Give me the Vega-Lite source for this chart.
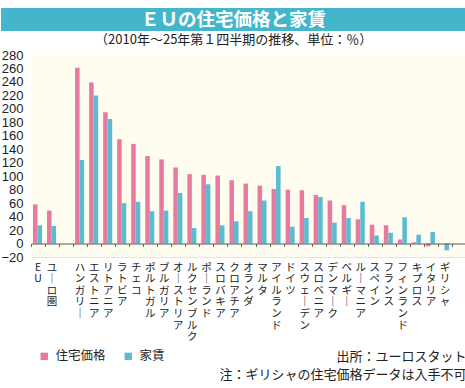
{
  "$schema": "https://vega.github.io/schema/vega-lite/v6.json",
  "padding": {"left": 0, "top": 8, "right": 0, "bottom": 0},
  "background": "white",
  "spacing": 24,
  "bounds": "flush",
  "config": {"font": "Noto Sans CJK JP", "view": {"stroke": null}, "axisY": {"labelOverlap": false}, "axisX": {"labelOverlap": false}},
  "datasets": {
    "bars": [
      {"c": "EU", "s": "住宅価格", "v": 58}, {"c": "EU", "s": "家賃", "v": 27},
      {"c": "ユーロ圏", "s": "住宅価格", "v": 49}, {"c": "ユーロ圏", "s": "家賃", "v": 26},
      {"c": "ハンガリー", "s": "住宅価格", "v": 261}, {"c": "ハンガリー", "s": "家賃", "v": 124},
      {"c": "エストニア", "s": "住宅価格", "v": 239}, {"c": "エストニア", "s": "家賃", "v": 220},
      {"c": "リトアニア", "s": "住宅価格", "v": 195}, {"c": "リトアニア", "s": "家賃", "v": 185},
      {"c": "ラトビア", "s": "住宅価格", "v": 155}, {"c": "ラトビア", "s": "家賃", "v": 60},
      {"c": "チェコ", "s": "住宅価格", "v": 148}, {"c": "チェコ", "s": "家賃", "v": 62},
      {"c": "ポルトガル", "s": "住宅価格", "v": 130}, {"c": "ポルトガル", "s": "家賃", "v": 48},
      {"c": "ブルガリア", "s": "住宅価格", "v": 125}, {"c": "ブルガリア", "s": "家賃", "v": 49},
      {"c": "オーストリア", "s": "住宅価格", "v": 113}, {"c": "オーストリア", "s": "家賃", "v": 75},
      {"c": "ルクセンブルク", "s": "住宅価格", "v": 103}, {"c": "ルクセンブルク", "s": "家賃", "v": 23},
      {"c": "ポーランド", "s": "住宅価格", "v": 102}, {"c": "ポーランド", "s": "家賃", "v": 88},
      {"c": "スロバキア", "s": "住宅価格", "v": 101}, {"c": "スロバキア", "s": "家賃", "v": 27},
      {"c": "クロアチア", "s": "住宅価格", "v": 94}, {"c": "クロアチア", "s": "家賃", "v": 33},
      {"c": "オランダ", "s": "住宅価格", "v": 89}, {"c": "オランダ", "s": "家賃", "v": 48},
      {"c": "マルタ", "s": "住宅価格", "v": 86}, {"c": "マルタ", "s": "家賃", "v": 64},
      {"c": "アイルランド", "s": "住宅価格", "v": 81}, {"c": "アイルランド", "s": "家賃", "v": 115},
      {"c": "ドイツ", "s": "住宅価格", "v": 80}, {"c": "ドイツ", "s": "家賃", "v": 25},
      {"c": "スウェーデン", "s": "住宅価格", "v": 79}, {"c": "スウェーデン", "s": "家賃", "v": 38},
      {"c": "スロベニア", "s": "住宅価格", "v": 72}, {"c": "スロベニア", "s": "家賃", "v": 69},
      {"c": "デンマーク", "s": "住宅価格", "v": 64}, {"c": "デンマーク", "s": "家賃", "v": 31},
      {"c": "ベルギー", "s": "住宅価格", "v": 57}, {"c": "ベルギー", "s": "家賃", "v": 38},
      {"c": "ルーマニア", "s": "住宅価格", "v": 36}, {"c": "ルーマニア", "s": "家賃", "v": 62},
      {"c": "スペイン", "s": "住宅価格", "v": 28}, {"c": "スペイン", "s": "家賃", "v": 12},
      {"c": "フランス", "s": "住宅価格", "v": 27}, {"c": "フランス", "s": "家賃", "v": 16},
      {"c": "フィンランド", "s": "住宅価格", "v": 6}, {"c": "フィンランド", "s": "家賃", "v": 39},
      {"c": "キプロス", "s": "住宅価格", "v": 2}, {"c": "キプロス", "s": "家賃", "v": 13},
      {"c": "イタリア", "s": "住宅価格", "v": -4}, {"c": "イタリア", "s": "家賃", "v": 17},
      {"c": "ギリシャ", "s": "家賃", "v": -10}
    ],
    "slots": [
      {"c": "EU"}, {"c": "ユーロ圏"}, {"c": "sp1"}, {"c": "ハンガリー"}, {"c": "エストニア"}, {"c": "リトアニア"},
      {"c": "ラトビア"}, {"c": "チェコ"}, {"c": "ポルトガル"}, {"c": "ブルガリア"}, {"c": "オーストリア"},
      {"c": "ルクセンブルク"}, {"c": "ポーランド"}, {"c": "スロバキア"}, {"c": "クロアチア"}, {"c": "オランダ"},
      {"c": "マルタ"}, {"c": "アイルランド"}, {"c": "ドイツ"}, {"c": "スウェーデン"}, {"c": "スロベニア"},
      {"c": "デンマーク"}, {"c": "ベルギー"}, {"c": "ルーマニア"}, {"c": "スペイン"}, {"c": "フランス"},
      {"c": "フィンランド"}, {"c": "キプロス"}, {"c": "イタリア"}, {"c": "ギリシャ"}, {"c": "sp2"}
    ],
    "head": [{"t": "ＥＵの住宅価格と家賃"}]
  },
  "vconcat": [
    {
      "width": 465,
      "height": 23,
      "view": {"fill": "#43b6cb", "stroke": null},
      "data": {"name": "head"},
      "mark": {"type": "text", "color": "white", "fontSize": 18.5, "fontWeight": "bold", "font": "Noto Sans CJK JP", "baseline": "middle", "align": "center"},
      "encoding": {"text": {"field": "t"}}
    },
    {
      "width": 465,
      "height": 202,
      "view": {"fill": null, "stroke": null},
      "title": {"text": "（2010年～25年第１四半期の推移、単位：％）", "anchor": "middle", "frame": "bounds", "fontSize": 13, "fontWeight": "normal", "color": "#222", "font": "Noto Sans CJK JP", "offset": 2},
      "resolve": {"axis": {"x": "independent"}},
      "layer": [
        {
          "data": {"name": "slots"},
          "mark": {"type": "bar", "color": "#fffdf0", "stroke": "#fffdf0", "strokeWidth": 0.6},
          "encoding": {
            "x": {
              "field": "c", "type": "nominal",
              "axis": {"orient": "bottom", "offset": -13.47, "title": null, "labels": false, "grid": false,
                       "domain": true, "domainColor": "#555555", "domainWidth": 1,
                       "ticks": true, "tickBand": "extent", "tickSize": 3, "tickColor": "#666666", "tickWidth": 1, "zindex": 1}
            },
            "y": {
              "datum": 280, "type": "quantitative",
              "axis": {
                "title": null, "values": [-20, 0, 20, 40, 60, 80, 100, 120, 140, 160, 180, 200, 220, 240, 260, 280],
                "grid": true, "gridColor": "#dcd9cf", "offset": -30, "domain": false, "ticks": false, "tickSize": 0,
                "labelPadding": 8, "labelOverlap": false,
                "labelFont": "Liberation Sans Narrow, Liberation Sans, sans-serif", "labelFontSize": 13, "labelColor": "#222"
              }
            },
            "y2": {"datum": -20}
          }
        },
        {
          "data": {"name": "bars"},
          "mark": {"type": "bar"},
          "encoding": {
            "x": {
              "field": "c", "type": "nominal",
              "scale": {"domain": ["EU", "ユーロ圏", "sp1", "ハンガリー", "エストニア", "リトアニア", "ラトビア", "チェコ", "ポルトガル", "ブルガリア", "オーストリア", "ルクセンブルク", "ポーランド", "スロバキア", "クロアチア", "オランダ", "マルタ", "アイルランド", "ドイツ", "スウェーデン", "スロベニア", "デンマーク", "ベルギー", "ルーマニア", "スペイン", "フランス", "フィンランド", "キプロス", "イタリア", "ギリシャ", "sp2"], "paddingInner": 0, "paddingOuter": 0, "range": [30, 465]},
              "axis": {
                "orient": "bottom",
                "title": ["出所：ユーロスタット", "注：ギリシャの住宅価格データは入手不可"],
                "titleAnchor": "end", "titleAlign": "right", "titleFontSize": 13, "titleFontWeight": "normal",
                "titleFont": "Noto Sans CJK JP", "titleColor": "#222", "titleLineHeight": 18, "titlePadding": 8,
                "labelExpr": "(datum.label == 'sp1' || datum.label == 'sp2') ? '' : split(replace(datum.label, regexp('ー', 'g'), '｜'), '')",
                "labelAngle": 0, "labelAlign": "center", "labelBaseline": "top", "labelFontSize": 10.5, "labelLineHeight": 11.6,
                "labelFont": "Noto Sans CJK JP", "labelColor": "#222", "labelPadding": 5, "labelOverlap": false, "labelBound": false, "labelLimit": 0,
                "ticks": false, "domain": false, "grid": false
              }
            },
            "xOffset": {"field": "s", "type": "nominal", "scale": {"domain": ["住宅価格", "家賃"], "paddingInner": 0, "paddingOuter": 0.55, "align": 0.4}},
            "y": {
              "field": "v", "type": "quantitative",
              "scale": {"domain": [-20, 280], "nice": false, "zero": false},
              "axis": {
                "title": null, "values": [-20, 0, 20, 40, 60, 80, 100, 120, 140, 160, 180, 200, 220, 240, 260, 280],
                "grid": true, "gridColor": "#dcd9cf", "offset": -30, "domain": false, "ticks": false, "tickSize": 0,
                "labelPadding": 8, "labelOverlap": false,
                "labelFont": "Liberation Sans Narrow, Liberation Sans, sans-serif", "labelFontSize": 13, "labelColor": "#222"
              }
            },
            "color": {
              "field": "s", "type": "nominal",
              "scale": {"domain": ["住宅価格", "家賃"], "range": ["#e8799f", "#5bbbcf"]},
              "legend": {
                "title": null, "orient": "none", "direction": "horizontal", "legendX": 37, "legendY": 342,
                "symbolType": "square", "symbolSize": 55, "symbolStrokeWidth": 0, "labelFontSize": 12.5,
                "labelFont": "Noto Sans CJK JP", "labelColor": "#222", "labelOffset": 5, "columnPadding": 16, "padding": 0
              }
            }
          }
        }
      ]
    }
  ]
}
